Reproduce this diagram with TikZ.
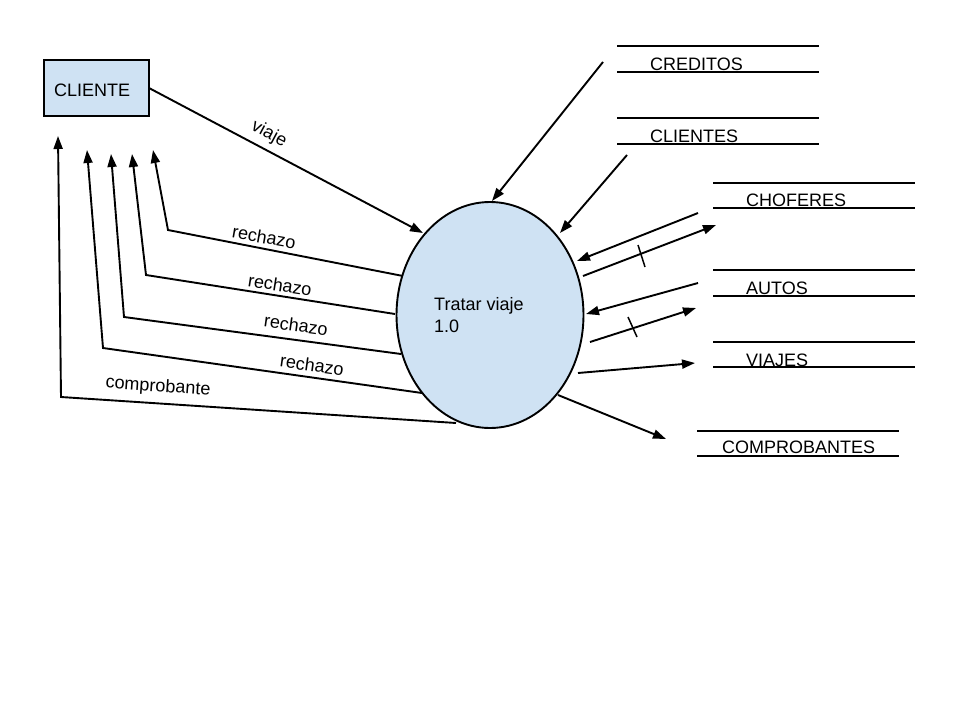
\documentclass[tikz,border=0pt]{standalone}
\usepackage{fontspec}
\setmainfont{Liberation Sans}
\usetikzlibrary{arrows.meta,shapes.geometric}
\definecolor{procfill}{HTML}{CFE2F3}
\begin{document}
\begin{tikzpicture}[x=1pt,y=-1pt,
  every node/.style={font=\fontsize{18}{22}\selectfont, inner sep=0pt},
  flow/.style={line width=1.9pt, -{Triangle[length=13pt,width=9pt]}},
  storeline/.style={line width=1.9pt},
  tick/.style={line width=1.5pt},
  lbl/.style={anchor=center}]
\useasboundingbox (0,0) rectangle (960,720);

% external entity
\draw[line width=1.9pt, fill=procfill] (44,60) rectangle (149,116);
\node[anchor=base west] (cli) at (54,96) {CLIENTE};
\coordinate (cliR) at (149,88);

% process
\node[ellipse, draw, line width=1.9pt, fill=procfill,
      minimum width=187pt, minimum height=226pt] (p) at (490,315) {};
\node[anchor=base west] (ptxt) at (434,310)
  {\renewcommand\arraystretch{1}\begin{tabular}[t]{@{}l@{}}Tratar viaje\\1.0\end{tabular}};

% data stores
\draw[storeline] (617,46) -- (819,46) (617,72) -- (819,72);
\node[anchor=base west] (cred) at (650,70) {CREDITOS};
\draw[storeline] (617,118) -- (819,118) (617,144) -- (819,144);
\node[anchor=base west] (clis) at (650,142) {CLIENTES};
\draw[storeline] (713,183) -- (915,183) (713,208) -- (915,208);
\node[anchor=base west] (chof) at (746,206) {CHOFERES};
\draw[storeline] (713,270) -- (915,270) (713,296) -- (915,296);
\node[anchor=base west] (autos) at (746,294) {AUTOS};
\draw[storeline] (713,342) -- (915,342) (713,367) -- (915,367);
\node[anchor=base west] (viajes) at (746,366) {VIAJES};
\draw[storeline] (697,431) -- (899,431) (697,456) -- (899,456);
\node[anchor=base west] (comps) at (722,453) {COMPROBANTES};

% connector end points
\coordinate (viajeEnd) at (423,233);
\coordinate (r1s) at (403,276); \coordinate (r1c) at (168,230); \coordinate (r1t) at (153,150);
\coordinate (r2s) at (395,314); \coordinate (r2c) at (146,275); \coordinate (r2t) at (132,154);
\coordinate (r3s) at (401,354); \coordinate (r3c) at (124,317); \coordinate (r3t) at (111,154);
\coordinate (r4s) at (422,393); \coordinate (r4c) at (103,348); \coordinate (r4t) at (87,150);
\coordinate (cbs) at (456,423); \coordinate (cbc) at (61,397);  \coordinate (cbt) at (58,136);
\coordinate (credS) at (603,62);  \coordinate (credT) at (492,201);
\coordinate (clisS) at (627,155); \coordinate (clisT) at (560,233);
\coordinate (chInS) at (698,213); \coordinate (chInT) at (577,261);
\coordinate (chOutS) at (583,276); \coordinate (chOutT) at (716,225);
\coordinate (auInS) at (698,283); \coordinate (auInT) at (586,314);
\coordinate (auOutS) at (590,342); \coordinate (auOutT) at (696,308);
\coordinate (viS) at (578,373);  \coordinate (viT) at (695,363);
\coordinate (cpS) at (558,395);  \coordinate (cpT) at (666,439);

% flow from the client
\draw[flow] (cliR) -- (viajeEnd);
\node[lbl, rotate=-28] (lviaje) at (269,134) {viaje};

% flows back to the client
\draw[flow] (r1s) -- (r1c) -- (r1t);
\draw[flow] (r2s) -- (r2c) -- (r2t);
\draw[flow] (r3s) -- (r3c) -- (r3t);
\draw[flow] (r4s) -- (r4c) -- (r4t);
\draw[flow] (cbs) -- (cbc) -- (cbt);
\node[lbl, rotate=-10] (lr1) at (264,237) {rechazo};
\node[lbl, rotate=-9]  (lr2) at (280,285) {rechazo};
\node[lbl, rotate=-8]  (lr3) at (296,325) {rechazo};
\node[lbl, rotate=-8]  (lr4) at (312,365) {rechazo};
\node[lbl, rotate=-4]  (lcb) at (158,387) {comprobante};

% flows between the process and the stores
\draw[flow] (credS) -- (credT);
\draw[flow] (clisS) -- (clisT);
\draw[flow] (chInS) -- (chInT);
\draw[flow] (chOutS) -- (chOutT);
\draw[tick] (638,245) -- (645,267);
\draw[flow] (auInS) -- (auInT);
\draw[flow] (auOutS) -- (auOutT);
\draw[tick] (628,317) -- (637,337);
\draw[flow] (viS) -- (viT);
\draw[flow] (cpS) -- (cpT);
\end{tikzpicture}
\end{document}
